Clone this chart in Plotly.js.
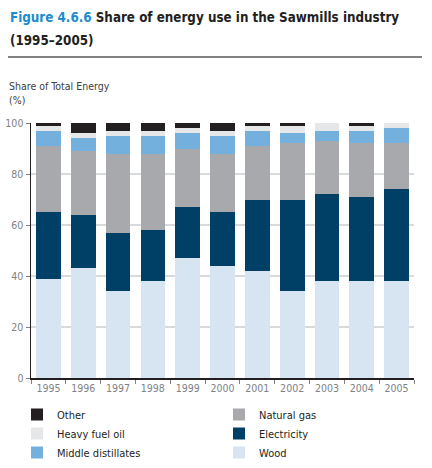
<!DOCTYPE html>
<html><head><meta charset="utf-8">
<script src="https://cdn.plot.ly/plotly-3.0.1.min.js"></script>
<style>html,body{margin:0;padding:0;background:#fff}#chart{width:432px;height:468px}</style>
</head><body><div id="chart"></div>
<script>
var years = ["1995","1996","1997","1998","1999","2000","2001","2002","2003","2004","2005"];
var wood        = [39, 43, 34, 38, 47, 44, 42, 34, 38, 38, 38];
var electricity = [26, 21, 23, 20, 20, 21, 28, 36, 34, 33, 36];
var naturalGas  = [26, 25, 31, 30, 23, 23, 21, 22, 21, 21, 18];
var middleDist  = [ 6,  5,  7,  7,  6,  7,  6,  4,  4,  5,  6];
var heavyFuel   = [ 2,  2,  2,  2,  2,  2,  2,  3,  3,  2,  2];
var other       = [ 1,  4,  3,  3,  2,  3,  1,  1,  0,  1,  0];

var FONT = "DejaVu Sans Condensed, DejaVu Sans, sans-serif";
function tr(name, y, color, legend){
  return {type:"bar", name:name, x:years, y:y, marker:{color:color, line:{width:0}},
          legend:legend, hoverinfo:"none"};
}
var data = [
  tr("Wood", wood, "#d7e4f2", "legend2"),
  tr("Electricity", electricity, "#003f66", "legend2"),
  tr("Natural gas", naturalGas, "#a7a9ac", "legend2"),
  tr("Middle distillates", middleDist, "#74b0de", "legend"),
  tr("Heavy fuel oil", heavyFuel, "#e6e7e8", "legend"),
  tr("Other", other, "#231f20", "legend")
];
var W = 383, H = 255;
function px(x){return (x-31)/W;}
function py(y){return (378-y)/H;}
var legFont = {family:FONT, size:11, color:"#231f20"};
var titleFont = {family:FONT, size:13.3, weight:"bold", color:"#231f20"};
var layout = {
  width:432, height:468,
  margin:{l:31, r:18, t:123, b:90, pad:0, autoexpand:false},
  paper_bgcolor:"#fff", plot_bgcolor:"#fff",
  barmode:"stack", bargap:0.29,
  font:{family:FONT, size:11, color:"#231f20"},
  xaxis:{type:"category", range:[-0.5,10.5], tickson:"boundaries", ticks:"outside", ticklen:4,
    tickcolor:"#808285", tickwidth:1, showline:true, linecolor:"#231f20", linewidth:1.5,
    showgrid:false, tickangle:0, automargin:false,
    tickfont:{family:FONT, size:10.5, color:"#808285"}, fixedrange:true},
  yaxis:{range:[0,100], tickvals:[0,20,40,60,80,100], ticks:"outside", ticklen:4,
    tickcolor:"#808285", showline:true, linecolor:"#231f20", linewidth:1.5,
    gridcolor:"#d9dadb", gridwidth:1.5, zeroline:false, automargin:false,
    tickfont:{family:FONT, size:10.5, color:"#808285"}, fixedrange:true},
  legend:{x:px(17), xanchor:"left", y:py(400), yanchor:"top", traceorder:"reversed",
    font:legFont, bgcolor:"rgba(0,0,0,0)", itemwidth:30, tracegroupgap:0},
  legend2:{x:px(219), xanchor:"left", y:py(400), yanchor:"top", traceorder:"reversed",
    font:legFont, bgcolor:"rgba(0,0,0,0)", itemwidth:30, tracegroupgap:0},
  shapes:[{type:"line", xref:"paper", yref:"paper", x0:px(8), x1:px(422), y0:py(57), y1:py(57),
    line:{color:"#58595b", width:1.5}}],
  annotations:[
    {text:"<span style='color:#1b8ccd'>Figure 4.6.6</span> Share of energy use in the Sawmills industry",
      xref:"paper", yref:"paper", x:px(8), y:py(8), xanchor:"left", yanchor:"top", showarrow:false,
      font:titleFont},
    {text:"(1995–2005)",
      xref:"paper", yref:"paper", x:px(8), y:py(31), xanchor:"left", yanchor:"top", showarrow:false,
      font:titleFont},
    {text:"Share of Total Energy<br>(%)", xref:"paper", yref:"paper", x:px(7), y:py(78),
      xanchor:"left", yanchor:"top", align:"left", showarrow:false,
      font:{family:FONT, size:10.5, color:"#414042"}}
  ]
};
Plotly.newPlot("chart", data, layout, {staticPlot:true, displayModeBar:false});
</script></body></html>
